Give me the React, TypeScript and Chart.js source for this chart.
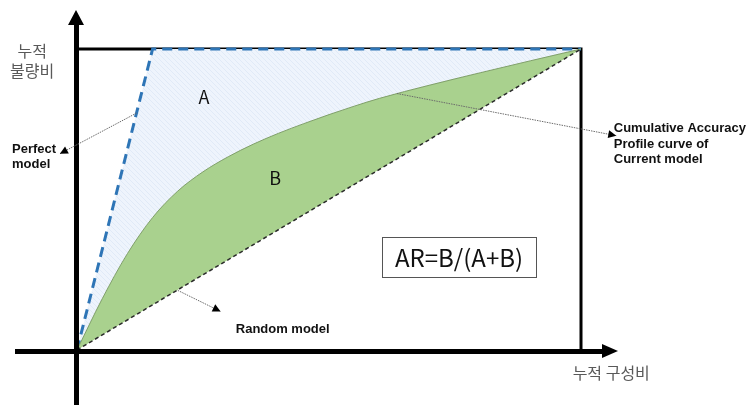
import React, { useEffect, useRef } from 'react';
import { Chart, registerables } from 'chart.js';

Chart.register(...registerables);

// ---- data ----
const randomX = [0, 1];
const randomY = [0, 1];
const capX = [0, 0.05, 0.1, 0.15, 0.2, 0.25, 0.3, 0.35, 0.4, 0.45, 0.5, 0.55, 0.6, 0.7, 0.8, 0.9, 1];
const capY = [0, 0.17, 0.32, 0.44, 0.528, 0.592, 0.642, 0.684, 0.72, 0.752, 0.782, 0.81, 0.836, 0.88, 0.921, 0.961, 1];
const perfectX = [0, 0.15, 1];
const perfectY = [0, 1, 1];

// ---- texts ----
const yAxisTitle = ['누적', '불량비'];
const xAxisTitle = '누적 구성비';
const areaLabels = ['A', 'B'];
const formulaText = 'AR=B/(A+B)';
const perfectNote = ['Perfect', 'model'];
const capNote = ['Cumulative Accuracy', 'Profile curve of', 'Current model'];
const randomNote = ['Random model'];

const toPts = (xs: number[], ys: number[]) => xs.map((x, i) => ({ x, y: ys[i] }));

function makePattern(): CanvasPattern | string {
  const c = document.createElement('canvas');
  c.width = 5;
  c.height = 5;
  const g = c.getContext('2d');
  if (!g) return '#eaf2fb';
  g.fillStyle = '#eef4fc';
  g.fillRect(0, 0, 5, 5);
  g.strokeStyle = '#e0eaf7';
  g.lineWidth = 1;
  g.beginPath();
  g.moveTo(0, 0);
  g.lineTo(5, 5);
  g.stroke();
  const p = g.createPattern(c, 'repeat');
  return p || '#eaf2fb';
}

const diagramPlugin = {
  id: 'diagram',
  beforeDatasetsDraw(chart: any) {
    const { ctx, chartArea: a } = chart;
    ctx.save();
    ctx.strokeStyle = '#000';
    ctx.lineWidth = 3;
    ctx.beginPath();
    ctx.moveTo(a.left, a.top);
    ctx.lineTo(a.right, a.top);
    ctx.lineTo(a.right, a.bottom);
    ctx.stroke();
    ctx.restore();
  },
  afterDatasetsDraw(chart: any) {
    const { ctx } = chart;
    const sx = chart.scales.x;
    const sy = chart.scales.y;
    const P = (x: number, y: number) => [sx.getPixelForValue(x), sy.getPixelForValue(y)];
    const [ox, oy] = P(0, 0);
    const H = chart.height;
    ctx.save();

    // axes
    ctx.fillStyle = '#000';
    ctx.fillRect(ox - 3, oy - 326, 5, H - (oy - 326));
    ctx.beginPath();
    ctx.moveTo(ox - 9, oy - 325);
    ctx.lineTo(ox + 7, oy - 325);
    ctx.lineTo(ox - 1, oy - 340);
    ctx.closePath();
    ctx.fill();
    ctx.fillRect(15, oy - 1, 588, 5);
    ctx.beginPath();
    ctx.moveTo(ox + 525, oy - 6);
    ctx.lineTo(ox + 525, oy + 8);
    ctx.lineTo(ox + 541, oy + 1);
    ctx.closePath();
    ctx.fill();

    // annotation arrows
    const arrow = (x1: number, y1: number, x2: number, y2: number) => {
      const [a1, b1] = P(x1, y1);
      const [a2, b2] = P(x2, y2);
      ctx.save();
      ctx.strokeStyle = '#6b6b6b';
      ctx.lineWidth = 1;
      ctx.setLineDash([1.5, 1]);
      ctx.beginPath();
      ctx.moveTo(a1, b1);
      ctx.lineTo(a2, b2);
      ctx.stroke();
      ctx.restore();
      const ang = Math.atan2(b2 - b1, a2 - a1);
      const L = 8;
      const W = 4;
      ctx.fillStyle = '#000';
      ctx.beginPath();
      ctx.moveTo(a2, b2);
      ctx.lineTo(a2 - L * Math.cos(ang) - W * Math.sin(ang), b2 - L * Math.sin(ang) + W * Math.cos(ang));
      ctx.lineTo(a2 - L * Math.cos(ang) + W * Math.sin(ang), b2 - L * Math.sin(ang) - W * Math.cos(ang));
      ctx.closePath();
      ctx.fill();
    };
    arrow(0.118, 0.787, -0.034, 0.652);
    arrow(0.635, 0.852, 1.07, 0.712);
    arrow(0.2, 0.198, 0.285, 0.128);

    // korean axis titles
    ctx.fillStyle = '#595959';
    ctx.font = '16px "Noto Sans CJK KR"';
    ctx.textAlign = 'center';
    ctx.textBaseline = 'middle';
    let [tx, ty] = P(-0.089, 0.995);
    ctx.fillText(yAxisTitle[0], tx, ty);
    ctx.fillText(yAxisTitle[1], tx, ty + 20);
    [tx, ty] = P(1.06, -0.076);
    ctx.fillText(xAxisTitle, tx, ty);

    // area labels
    ctx.fillStyle = '#111';
    ctx.font = '18px "Noto Sans CJK KR"';
    [tx, ty] = P(0.252, 0.841);
    ctx.fillText(areaLabels[0], tx, ty);
    [tx, ty] = P(0.393, 0.571);
    ctx.fillText(areaLabels[1], tx, ty);

    // formula box
    [tx, ty] = P(0.758, 0.308);
    ctx.strokeStyle = '#555';
    ctx.lineWidth = 1;
    ctx.strokeRect(Math.round(tx - 77) + 0.5, Math.round(ty - 20) + 0.5, 154, 40);
    ctx.fillStyle = '#111';
    ctx.font = '24px "Noto Sans CJK KR"';
    ctx.fillText(formulaText, tx, ty + 1);

    // notes
    ctx.fillStyle = '#111';
    ctx.font = 'bold 13px "Liberation Sans", Arial, sans-serif';
    ctx.textAlign = 'left';
    ctx.textBaseline = 'alphabetic';
    [tx, ty] = P(-0.129, 0.654);
    perfectNote.forEach((t, i) => ctx.fillText(t, tx, ty + i * 15));
    [tx, ty] = P(1.065, 0.724);
    capNote.forEach((t, i) => ctx.fillText(t, tx, ty + i * 15.5));
    [tx, ty] = P(0.315, 0.056);
    randomNote.forEach((t, i) => ctx.fillText(t, tx, ty + i * 15));

    ctx.restore();
  },
};

export default function App() {
  const ref = useRef<HTMLCanvasElement | null>(null);
  useEffect(() => {
    if (!ref.current) return;
    const chart = new Chart(ref.current, {
      type: 'line',
      data: {
        datasets: [
          {
            label: 'Random model',
            data: toPts(randomX, randomY),
            borderColor: '#2b2b2b',
            borderWidth: 1.5,
            borderDash: [4, 3],
            pointRadius: 0,
            fill: false,
            clip: false,
          } as any,
          {
            label: 'CAP',
            data: toPts(capX, capY),
            borderColor: '#7f9f6a',
            borderWidth: 1,
            pointRadius: 0,
            cubicInterpolationMode: 'monotone',
            backgroundColor: '#a9d18e',
            fill: 0,
            clip: false,
          } as any,
          {
            label: 'Perfect model',
            data: toPts(perfectX, perfectY),
            borderColor: '#2e75b6',
            borderWidth: 3,
            borderDash: [10, 6],
            pointRadius: 0,
            backgroundColor: makePattern(),
            fill: 1,
            clip: false,
          } as any,
        ],
      },
      options: {
        animation: false,
        responsive: false,
        events: [],
        layout: { padding: { left: 77, right: 170, top: 49, bottom: 55 } },
        plugins: { legend: { display: false }, tooltip: { enabled: false } },
        scales: {
          x: { type: 'linear', min: 0, max: 1, display: false },
          y: { type: 'linear', min: 0, max: 1, display: false },
        },
      },
      plugins: [diagramPlugin],
    });
    return () => chart.destroy();
  }, []);
  return (
    <div style={{ position: 'absolute', left: 0, top: 0, width: 751, height: 405, background: '#fff' }}>
      <canvas ref={ref} width={751} height={405} style={{ width: 751, height: 405 }} />
    </div>
  );
}
